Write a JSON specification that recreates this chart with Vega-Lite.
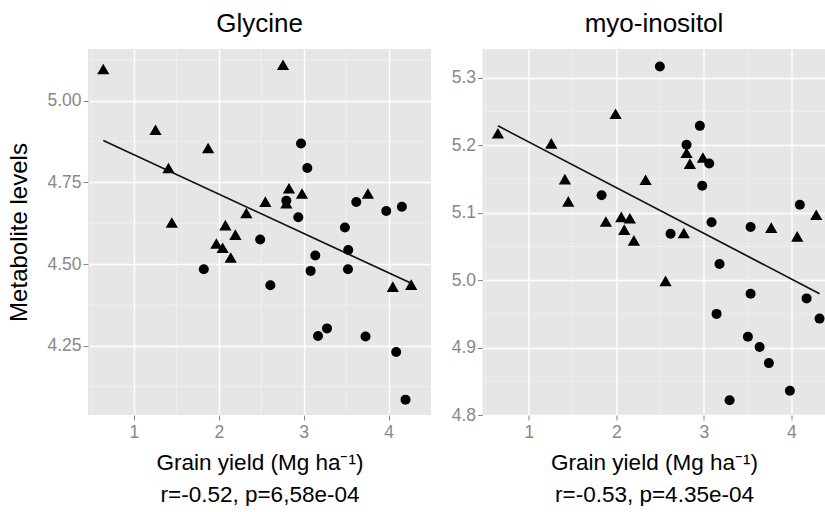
{
  "$schema": "https://vega.github.io/schema/vega-lite/v6.json",
  "background": "white",
  "padding": {"left": 7, "top": 10, "right": 0, "bottom": 0},
  "config": {
    "font": "Liberation Sans",
    "view": {"fill": "#E6E6E6", "stroke": null},
    "axis": {
      "labelFont": "Liberation Sans",
      "labelFontSize": 17.5,
      "labelColor": "#888888",
      "tickColor": "#888888",
      "tickSize": 5,
      "labelPadding": 2,
      "domain": false,
      "gridColor": "#FFFFFF",
      "gridWidth": 1.4,
      "titleFont": "Liberation Sans",
      "titleFontSize": 22.5,
      "titleFontWeight": "normal",
      "titleColor": "#000000"
    },
    "title": {"font": "Liberation Sans", "fontSize": 26, "fontWeight": "normal", "color": "#000000", "offset": 12},
    "concat": {"spacing": 18.5}
  },
  "datasets": {
    "gly": [
      {"yield": 0.64, "level": 5.097, "type": "A"},
      {"yield": 2.757, "level": 5.110, "type": "A"},
      {"yield": 1.255, "level": 4.911, "type": "A"},
      {"yield": 1.875, "level": 4.855, "type": "A"},
      {"yield": 1.408, "level": 4.794, "type": "A"},
      {"yield": 1.447, "level": 4.627, "type": "A"},
      {"yield": 2.827, "level": 4.732, "type": "A"},
      {"yield": 2.98, "level": 4.716, "type": "A"},
      {"yield": 2.549, "level": 4.691, "type": "A"},
      {"yield": 2.796, "level": 4.686, "type": "A"},
      {"yield": 2.325, "level": 4.656, "type": "A"},
      {"yield": 2.078, "level": 4.619, "type": "A"},
      {"yield": 2.196, "level": 4.590, "type": "A"},
      {"yield": 3.757, "level": 4.716, "type": "A"},
      {"yield": 1.972, "level": 4.563, "type": "A"},
      {"yield": 2.046, "level": 4.550, "type": "A"},
      {"yield": 2.141, "level": 4.520, "type": "A"},
      {"yield": 4.05, "level": 4.431, "type": "A"},
      {"yield": 4.267, "level": 4.437, "type": "A"},
      {"yield": 2.969, "level": 4.869, "type": "B"},
      {"yield": 3.043, "level": 4.794, "type": "B"},
      {"yield": 2.796, "level": 4.694, "type": "B"},
      {"yield": 2.937, "level": 4.643, "type": "B"},
      {"yield": 3.62, "level": 4.690, "type": "B"},
      {"yield": 3.973, "level": 4.662, "type": "B"},
      {"yield": 4.157, "level": 4.675, "type": "B"},
      {"yield": 3.486, "level": 4.612, "type": "B"},
      {"yield": 2.488, "level": 4.575, "type": "B"},
      {"yield": 3.525, "level": 4.543, "type": "B"},
      {"yield": 1.824, "level": 4.484, "type": "B"},
      {"yield": 2.608, "level": 4.435, "type": "B"},
      {"yield": 3.137, "level": 4.526, "type": "B"},
      {"yield": 3.082, "level": 4.479, "type": "B"},
      {"yield": 3.522, "level": 4.484, "type": "B"},
      {"yield": 3.169, "level": 4.280, "type": "B"},
      {"yield": 3.275, "level": 4.303, "type": "B"},
      {"yield": 3.729, "level": 4.278, "type": "B"},
      {"yield": 4.09, "level": 4.231, "type": "B"},
      {"yield": 4.2, "level": 4.085, "type": "B"}
    ],
    "glyfit": [
      {"yield": 0.64, "level": 4.878},
      {"yield": 4.267, "level": 4.441}
    ],
    "myo": [
      {"yield": 0.646, "level": 5.218, "type": "A"},
      {"yield": 1.256, "level": 5.203, "type": "A"},
      {"yield": 1.991, "level": 5.247, "type": "A"},
      {"yield": 1.412, "level": 5.150, "type": "A"},
      {"yield": 1.450, "level": 5.117, "type": "A"},
      {"yield": 2.334, "level": 5.149, "type": "A"},
      {"yield": 1.880, "level": 5.087, "type": "A"},
      {"yield": 2.056, "level": 5.094, "type": "A"},
      {"yield": 2.154, "level": 5.092, "type": "A"},
      {"yield": 2.090, "level": 5.075, "type": "A"},
      {"yield": 2.200, "level": 5.059, "type": "A"},
      {"yield": 2.802, "level": 5.189, "type": "A"},
      {"yield": 2.840, "level": 5.173, "type": "A"},
      {"yield": 2.989, "level": 5.182, "type": "A"},
      {"yield": 2.771, "level": 5.070, "type": "A"},
      {"yield": 3.770, "level": 5.078, "type": "A"},
      {"yield": 4.067, "level": 5.065, "type": "A"},
      {"yield": 4.284, "level": 5.097, "type": "A"},
      {"yield": 2.562, "level": 4.999, "type": "A"},
      {"yield": 2.497, "level": 5.317, "type": "B"},
      {"yield": 2.954, "level": 5.229, "type": "B"},
      {"yield": 2.802, "level": 5.201, "type": "B"},
      {"yield": 3.061, "level": 5.173, "type": "B"},
      {"yield": 2.981, "level": 5.140, "type": "B"},
      {"yield": 1.831, "level": 5.126, "type": "B"},
      {"yield": 2.619, "level": 5.069, "type": "B"},
      {"yield": 3.088, "level": 5.086, "type": "B"},
      {"yield": 3.534, "level": 5.079, "type": "B"},
      {"yield": 4.097, "level": 5.112, "type": "B"},
      {"yield": 3.179, "level": 5.024, "type": "B"},
      {"yield": 3.534, "level": 4.980, "type": "B"},
      {"yield": 3.145, "level": 4.950, "type": "B"},
      {"yield": 4.174, "level": 4.973, "type": "B"},
      {"yield": 4.322, "level": 4.943, "type": "B"},
      {"yield": 3.503, "level": 4.916, "type": "B"},
      {"yield": 3.637, "level": 4.901, "type": "B"},
      {"yield": 3.743, "level": 4.877, "type": "B"},
      {"yield": 3.983, "level": 4.836, "type": "B"},
      {"yield": 3.294, "level": 4.822, "type": "B"}
    ],
    "myofit": [
      {"yield": 0.646, "level": 5.229},
      {"yield": 4.322, "level": 4.980}
    ],
    "xminor": [{"v": 0.5}, {"v": 1.5}, {"v": 2.5}, {"v": 3.5}],
    "glyyminor": [{"v": 4.125}, {"v": 4.375}, {"v": 4.625}, {"v": 4.875}, {"v": 5.125}],
    "myoyminor": [{"v": 4.85}, {"v": 4.95}, {"v": 5.05}, {"v": 5.15}, {"v": 5.25}]
  },
  "hconcat": [
    {
      "title": "Glycine",
      "width": 343,
      "height": 366,
      "layer": [
        {
          "data": {"name": "xminor"},
          "mark": {"type": "rule", "color": "#F2F2F2", "strokeWidth": 0.7},
          "encoding": {
            "x": {"field": "v", "type": "quantitative", "scale": {"domain": [0.46, 4.5], "nice": false, "zero": false}}
          }
        },
        {
          "data": {"name": "glyyminor"},
          "mark": {"type": "rule", "color": "#F2F2F2", "strokeWidth": 0.7},
          "encoding": {
            "y": {"field": "v", "type": "quantitative", "scale": {"domain": [4.038, 5.158], "nice": false, "zero": false}}
          }
        },
        {
          "data": {"name": "gly"},
          "mark": {"type": "point", "filled": true, "opacity": 1, "color": "#000000"},
          "encoding": {
            "x": {"field": "yield", "type": "quantitative", "scale": {"domain": [0.46, 4.5], "nice": false, "zero": false},
                  "axis": {"values": [1, 2, 3, 4], "format": "d", "labelPadding": 3, "title": ["Grain yield (Mg ha⁻¹)", "r=-0.52, p=6,58e-04"], "titleLineHeight": 32, "titlePadding": 11}},
            "y": {"field": "level", "type": "quantitative", "scale": {"domain": [4.038, 5.158], "nice": false, "zero": false},
                  "axis": {"values": [4.25, 4.5, 4.75, 5.0], "format": ".2f", "title": "Metabolite levels", "titleFontSize": 24, "titlePadding": 15}},
            "shape": {"field": "type", "type": "nominal", "scale": {"domain": ["A", "B"], "range": ["triangle-up", "circle"]}, "legend": null},
            "size": {"field": "type", "type": "nominal", "scale": {"domain": ["A", "B"], "range": [150, 100]}, "legend": null}
          }
        },
        {
          "data": {"name": "glyfit"},
          "mark": {"type": "line", "color": "#111111", "strokeWidth": 1.7},
          "encoding": {
            "x": {"field": "yield", "type": "quantitative"},
            "y": {"field": "level", "type": "quantitative"}
          }
        }
      ]
    },
    {
      "title": "myo-inositol",
      "width": 343,
      "height": 366,
      "layer": [
        {
          "data": {"name": "xminor"},
          "mark": {"type": "rule", "color": "#F2F2F2", "strokeWidth": 0.7},
          "encoding": {
            "x": {"field": "v", "type": "quantitative", "scale": {"domain": [0.47, 4.39], "nice": false, "zero": false}}
          }
        },
        {
          "data": {"name": "myoyminor"},
          "mark": {"type": "rule", "color": "#F2F2F2", "strokeWidth": 0.7},
          "encoding": {
            "y": {"field": "v", "type": "quantitative", "scale": {"domain": [4.8, 5.343], "nice": false, "zero": false}}
          }
        },
        {
          "data": {"name": "myo"},
          "mark": {"type": "point", "filled": true, "opacity": 1, "color": "#000000"},
          "encoding": {
            "x": {"field": "yield", "type": "quantitative", "scale": {"domain": [0.47, 4.39], "nice": false, "zero": false},
                  "axis": {"values": [1, 2, 3, 4], "format": "d", "labelPadding": 3, "title": ["Grain yield (Mg ha⁻¹)", "r=-0.53, p=4.35e-04"], "titleLineHeight": 32, "titlePadding": 11}},
            "y": {"field": "level", "type": "quantitative", "scale": {"domain": [4.8, 5.343], "nice": false, "zero": false},
                  "axis": {"values": [4.8, 4.9, 5.0, 5.1, 5.2, 5.3], "format": ".1f", "title": null}},
            "shape": {"field": "type", "type": "nominal", "scale": {"domain": ["A", "B"], "range": ["triangle-up", "circle"]}, "legend": null},
            "size": {"field": "type", "type": "nominal", "scale": {"domain": ["A", "B"], "range": [150, 100]}, "legend": null}
          }
        },
        {
          "data": {"name": "myofit"},
          "mark": {"type": "line", "color": "#111111", "strokeWidth": 1.7},
          "encoding": {
            "x": {"field": "yield", "type": "quantitative"},
            "y": {"field": "level", "type": "quantitative"}
          }
        }
      ]
    }
  ]
}
